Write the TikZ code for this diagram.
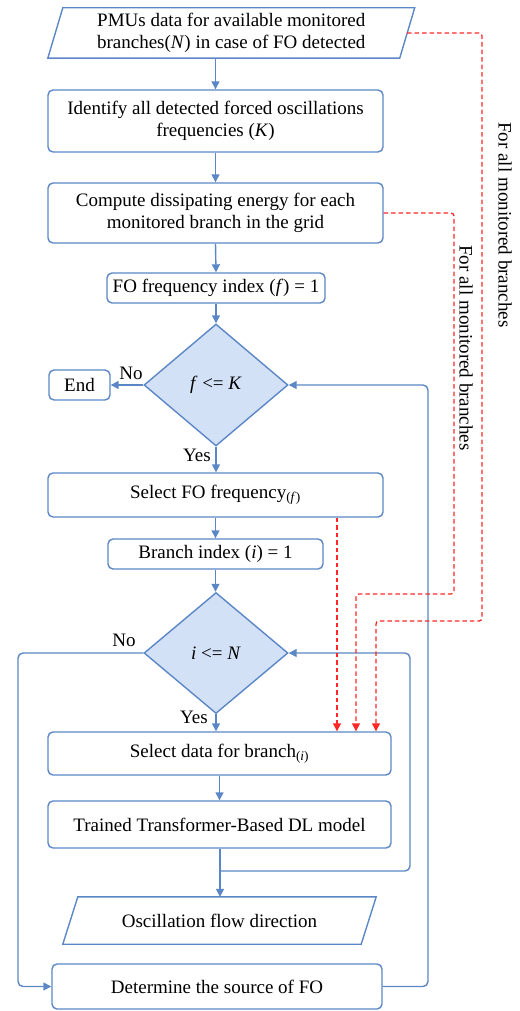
\documentclass[tikz,border=0pt]{standalone}
\usepackage{fontspec}
\setmainfont{Liberation Serif}
\usetikzlibrary{arrows.meta,shapes.geometric,calc}

\definecolor{flowblue}{HTML}{5B87C6}
\definecolor{decfill}{HTML}{D3E1F7}
\definecolor{flowred}{HTML}{FF2828}
\newcommand\flowfont{\fontsize{19}{22.5}\selectfont}

\begin{document}
\begin{tikzpicture}[x=1pt,y=-1pt,
  flowline/.style={draw=flowblue, line width=1.4pt},
  stepbox/.style={flowline, rounded corners=5pt, align=center, inner sep=0pt, font=\flowfont},
  iobox/.style={align=center, inner sep=0pt, font=\flowfont},
  decision/.style={flowline, diamond, fill=decfill, inner sep=0pt, font=\flowfont},
  flowarrow/.style={flowline, -{Triangle[length=8pt,width=8pt]}},
  looparrow/.style={flowarrow, rounded corners=5pt},
  redarrow/.style={draw=flowred, line width=1.3pt, dash pattern=on 4.5pt off 3pt,
    rounded corners=3pt, -{Triangle[length=8pt,width=8pt]}},
  lbl/.style={font=\flowfont, inner sep=0pt},
  sidelbl/.style={font=\flowfont, inner sep=0pt, rotate=-90}]
\useasboundingbox (0,0) rectangle (519,1011);

% process steps
\node[iobox, minimum width=351.5pt, minimum height=50pt] (pmu) at (231.25,33)
  {PMUs data for available monitored\\branches(\textit{N}) in case of FO detected};
\draw[flowline] ($(pmu.south west)+(-7.5,0)$) -- ($(pmu.south east)+(-7.5,0)$)
  -- ($(pmu.north east)+(7.5,0)$) -- ($(pmu.north west)+(7.5,0)$) -- cycle;

\node[stepbox, minimum width=335pt, minimum height=62pt] (ident) at (215.5,121)
  {Identify all detected forced oscillations\\frequencies (\textit{K})};
\node[stepbox, minimum width=335pt, minimum height=60pt] (energy) at (215.5,213)
  {Compute dissipating energy for each\\monitored branch in the grid};
\node[stepbox, minimum width=218pt, minimum height=30pt] (fidx) at (216,288)
  {FO frequency index (\textit{f}) = 1};
\node[decision, minimum width=144pt, minimum height=122pt] (fdec) at (216,385)
  {\textit{f} <= \textit{K}};
\node[stepbox, minimum width=61pt, minimum height=30pt] (fin) at (79.5,385) {End};
\node[stepbox, minimum width=335pt, minimum height=44pt] (selfreq) at (215.5,495)
  {Select FO frequency\textsubscript{(\textit{f})}};
\node[stepbox, minimum width=215pt, minimum height=30pt] (bidx) at (215.5,554)
  {Branch index (\textit{i}) = 1};
\node[decision, minimum width=144pt, minimum height=121pt] (idec) at (216,653)
  {\textit{i} <= \textit{N}};
\node[stepbox, minimum width=343pt, minimum height=43pt] (seldata) at (219.5,753.5)
  {Select data for branch\textsubscript{(\textit{i})}};
\node[stepbox, minimum width=343pt, minimum height=47pt] (model) at (219.5,824.5)
  {Trained Transformer-Based DL model};
\coordinate (merge) at (220,871);
\node[iobox, minimum width=298pt, minimum height=47pt] (flow) at (219.5,920.5)
  {Oscillation flow direction};
\draw[flowline] ($(flow.south west)+(-7.5,0)$) -- ($(flow.south east)+(-7.5,0)$)
  -- ($(flow.north east)+(7.5,0)$) -- ($(flow.north west)+(7.5,0)$) -- cycle;
\node[stepbox, minimum width=330pt, minimum height=45pt] (source) at (217,986.5)
  {Determine the source of FO};

% main flow
\draw[flowarrow] (ident.north |- pmu.south) -- (ident.north);
\draw[flowarrow] (ident.south) -- (energy.north);
\draw[flowarrow] (energy.south) -- (fidx.north);
\draw[flowarrow] (fidx.south) -- (fdec.north);
\draw[flowarrow] (fdec.west) -- (fin.east);
\draw[flowarrow] (fdec.south) -- (selfreq.north -| fdec.south);
\draw[flowarrow] (selfreq.south) -- (bidx.north);
\draw[flowarrow] (bidx.south) -- (idec.north -| bidx.south);
\draw[flowarrow] (idec.south) -- (seldata.north -| idec.south);
\draw[flowarrow] (seldata.south) -- (model.north);
\draw[flowline] (model.south -| merge) -- (merge);
\draw[flowarrow] (merge) -- (flow.north -| merge);

% loops
\draw[looparrow] (merge) -- (410,871) -- (410,653) -- (idec.east);
\draw[looparrow] (idec.west) -- (18,653) -- (18,986.5) -- (source.west);
\draw[looparrow] (source.east) -- (428,986.5) -- (428,385) -- (fdec.east);

% branch labels
\node[lbl] at (131,373) {No};
\node[lbl] at (197,455) {Yes};
\node[lbl] at (124,640) {No};
\node[lbl] at (194,717) {Yes};

% data feeds into branch selection
\coordinate (feedA) at (376,0);
\coordinate (feedB) at (356,0);
\coordinate (feedC) at (337,0);
\draw[redarrow] (pmu.east) -- (482,33) -- (482,621) -- (376,621) -- (feedA |- seldata.north);
\draw[redarrow] (energy.east) -- (454,213) -- (454,594) -- (356,594) -- (feedB |- seldata.north);
\draw[redarrow] (feedC |- selfreq.south) -- (feedC |- seldata.north);

\node[sidelbl] at (505,225) {For all monitored branches};
\node[sidelbl] at (466,348) {For all monitored branches};
\end{tikzpicture}
\end{document}
